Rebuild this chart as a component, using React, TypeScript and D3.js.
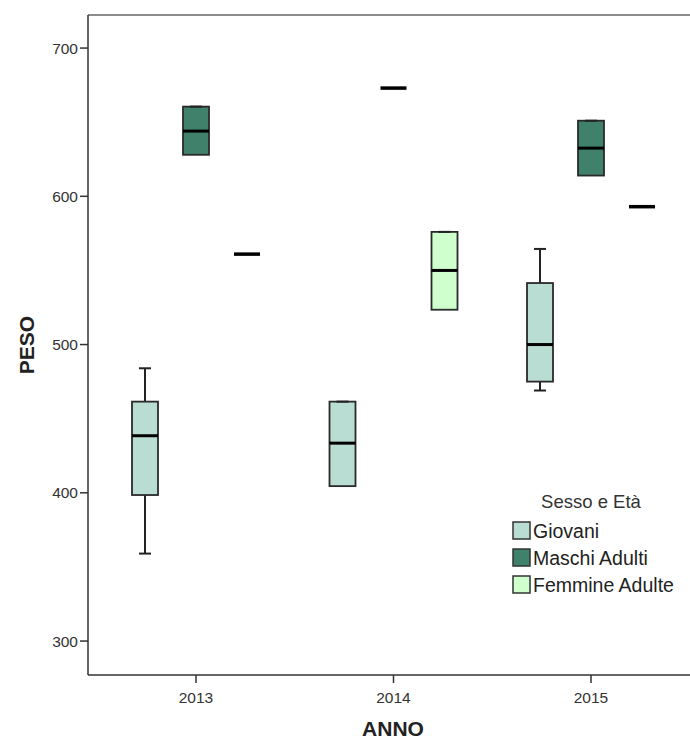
import React from "react";
import * as d3 from "d3";

const years = ["2013", "2014", "2015"];
const series = ["Giovani", "Maschi Adulti", "Femmine Adulte"];
const colors = ["#b9ddd3", "#3f816b", "#ceffcd"];
const yTicks = [300, 400, 500, 600, 700];

// [min, q1, median, q3, max] per year
const giovani = [
  [359, 398.5, 438.5, 461.5, 484],
  [404.5, 404.5, 433.5, 461.5, 461.5],
  [469, 475, 500, 541.5, 564.5],
];
const maschi = [
  [628, 628, 644, 660.5, 660.5],
  [673, 673, 673, 673, 673],
  [614, 614, 632.5, 651, 651],
];
const femmine = [
  [561, 561, 561, 561, 561],
  [523.5, 523.5, 550, 576, 576],
  [593, 593, 593, 593, 593],
];
const seriesData = [giovani, maschi, femmine];

export default function App() {
  const W = 690, H = 740;
  const left = 88, top = 15, bottom = 675, right = 700;
  const y = d3.scaleLinear().domain([277.1, 722.3]).range([bottom, top]);
  const x = d3.scaleBand().domain(years).range([97.25, 689.75]).padding(0);
  const inner = d3.scaleBand().domain(series).range([-76.5, 76.5]).padding(0);
  const bw = 26;
  const font = "'Liberation Sans', Arial, sans-serif";

  const marks: React.ReactNode[] = [];
  seriesData.forEach((sd, si) => {
    sd.forEach((v, yi) => {
      if (!v) return;
      const [mn, q1, md, q3, mx] = v;
      const cx = (x(years[yi]) as number) + x.bandwidth() / 2 + (inner(series[si]) as number) + inner.bandwidth() / 2;
      const key = `${si}-${yi}`;
      if (q1 === q3) {
        marks.push(
          <line key={key} x1={cx - bw / 2} x2={cx + bw / 2} y1={y(md)} y2={y(md)} stroke="#000" strokeWidth={3.5} />
        );
        return;
      }
      const cap = 12;
      marks.push(
        <g key={key}>
          {mx > q3 && (
            <>
              <line x1={cx} x2={cx} y1={y(mx)} y2={y(q3)} stroke="#222" strokeWidth={2} />
              <line x1={cx - cap / 2} x2={cx + cap / 2} y1={y(mx)} y2={y(mx)} stroke="#222" strokeWidth={2} />
            </>
          )}
          {mn < q1 && (
            <>
              <line x1={cx} x2={cx} y1={y(q1)} y2={y(mn)} stroke="#222" strokeWidth={2} />
              <line x1={cx - cap / 2} x2={cx + cap / 2} y1={y(mn)} y2={y(mn)} stroke="#222" strokeWidth={2} />
            </>
          )}
          <rect x={cx - bw / 2} y={y(q3)} width={bw} height={y(q1) - y(q3)} fill={colors[si]} stroke="#2a2a2a" strokeWidth={1.8} />
          {mx === q3 && <line x1={cx - 6} x2={cx + 6} y1={y(mx)} y2={y(mx)} stroke="#222" strokeWidth={2} />}
          <line x1={cx - bw / 2} x2={cx + bw / 2} y1={y(md)} y2={y(md)} stroke="#000" strokeWidth={3} />
        </g>
      );
    });
  });

  return (
    <svg width={W} height={H} style={{ position: "absolute", left: 0, top: 0, background: "#fff" }}>
      <rect x={0} y={0} width={W} height={H} fill="#fff" />
      <line x1={left} x2={right} y1={top} y2={top} stroke="#666" strokeWidth={1.5} />
      <line x1={left} x2={left} y1={top} y2={bottom} stroke="#333" strokeWidth={1.5} />
      <line x1={left} x2={right} y1={bottom} y2={bottom} stroke="#333" strokeWidth={1.5} />
      {yTicks.map((t) => (
        <g key={t}>
          <line x1={left - 8} x2={left} y1={y(t)} y2={y(t)} stroke="#333" strokeWidth={1.5} />
          <text x={left - 10} y={y(t)} dy="0.36em" textAnchor="end" fontSize={15.5} fontFamily={font} fill="#333">{t}</text>
        </g>
      ))}
      {years.map((yr) => {
        const cx = (x(yr) as number) + x.bandwidth() / 2;
        return (
          <g key={yr}>
            <line x1={cx} x2={cx} y1={bottom} y2={bottom + 8} stroke="#333" strokeWidth={1.5} />
            <text x={cx} y={bottom + 28} textAnchor="middle" fontSize={15.5} fontFamily={font} fill="#333">{yr}</text>
          </g>
        );
      })}
      {marks}
      <text x={393} y={736} textAnchor="middle" fontSize={21} fontWeight="bold" fontFamily={font} fill="#222">ANNO</text>
      <text transform="translate(34,345) rotate(-90)" textAnchor="middle" fontSize={21} fontWeight="bold" fontFamily={font} fill="#222">PESO</text>
      <text x={591} y={508} textAnchor="middle" fontSize={18.5} fontFamily={font} fill="#333">Sesso e Età</text>
      {series.map((s, i) => (
        <g key={s} transform={`translate(513, ${522 + i * 27})`}>
          <rect x={0} y={0} width={17} height={17} fill={colors[i]} stroke="#333" strokeWidth={1.5} />
          <text x={20} y={16} fontSize={19.5} fontFamily={font} fill="#222">{s}</text>
        </g>
      ))}
    </svg>
  );
}
